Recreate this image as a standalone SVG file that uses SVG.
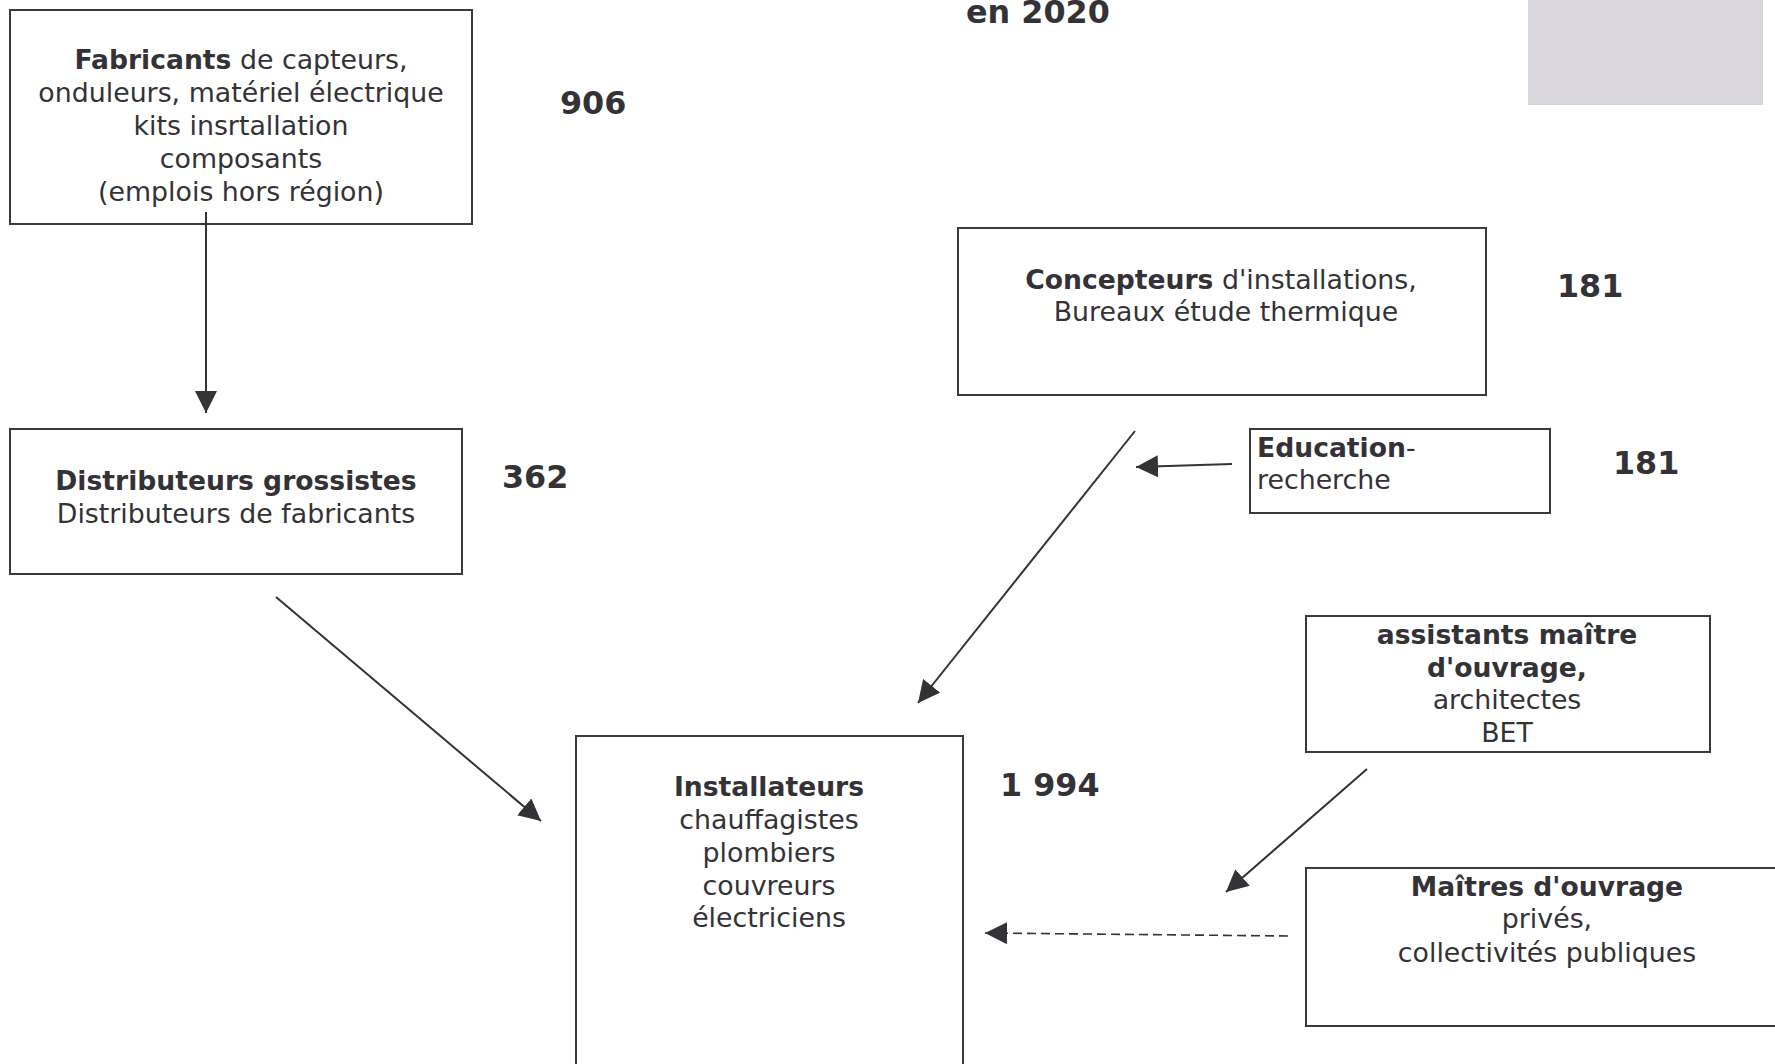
<svg xmlns="http://www.w3.org/2000/svg" width="1775" height="1064" viewBox="0 0 1775 1064">
<defs>
<style>
.box{fill:#fff;stroke:#3a3a3d;stroke-width:2}
.t{font-family:"DejaVu Sans",Verdana,sans-serif;font-size:26.8px;fill:#333236}
.c{text-anchor:middle}
.b{font-weight:bold;font-size:26.6px}
.num{font-family:"DejaVu Sans",Verdana,sans-serif;font-weight:bold;font-size:31.8px;fill:#333236}
.conn{stroke:#333236;stroke-width:2;fill:none}
.dash{stroke-width:1.6;stroke-dasharray:9 5}
</style>
<marker id="ah" markerUnits="userSpaceOnUse" markerWidth="22" markerHeight="22" refX="20" refY="10" orient="auto" viewBox="0 0 20 20"><path d="M0,0 L20,10 L0,20 z" fill="#333236"/></marker>
</defs>
<rect width="1775" height="1064" fill="#fff"/>
<text class="num" x="966" y="23">en 2020</text>
<rect x="1528" y="0" width="235" height="105" fill="#d9d5dc"/>

<g id="fabricants">
<rect class="box" x="10" y="10" width="462" height="214"/>
<text class="t c" x="241" y="69"><tspan class="b">Fabricants</tspan> de capteurs,</text>
<text class="t c" x="241" y="102">onduleurs, matériel électrique</text>
<text class="t c" x="241" y="135">kits insrtallation</text>
<text class="t c" x="241" y="167.5">composants</text>
<text class="t c" x="241" y="200.5">(emplois hors région)</text>
<text class="num" x="560" y="114">906</text>
</g>

<g id="distributeurs">
<rect class="box" x="10" y="429" width="452" height="145"/>
<text class="t c b" x="236" y="490">Distributeurs grossistes</text>
<text class="t c" x="236" y="523">Distributeurs de fabricants</text>
<text class="num" x="502" y="488">362</text>
</g>

<g id="concepteurs">
<rect class="box" x="958" y="228" width="528" height="167"/>
<text class="t c" x="1221" y="289"><tspan class="b">Concepteurs</tspan> d'installations,</text>
<text class="t c" x="1226" y="321">Bureaux étude thermique</text>
<text class="num" x="1557" y="297">181</text>
</g>

<g id="education">
<rect class="box" x="1250" y="429" width="300" height="84"/>
<text class="t" x="1257" y="457"><tspan class="b">Education</tspan>-</text>
<text class="t" x="1257" y="489">recherche</text>
<text class="num" x="1613" y="474">181</text>
</g>

<g id="assistants">
<rect class="box" x="1306" y="616" width="404" height="136"/>
<text class="t c b" x="1507" y="644">assistants maître</text>
<text class="t c b" x="1507" y="676.5">d'ouvrage,</text>
<text class="t c" x="1507" y="709">architectes</text>
<text class="t c" x="1507" y="742">BET</text>
</g>

<g id="maitres">
<rect class="box" x="1306" y="868" width="480" height="158"/>
<text class="t c b" x="1547" y="896">Maîtres d'ouvrage</text>
<text class="t c" x="1547" y="928">privés,</text>
<text class="t c" x="1547" y="962">collectivités publiques</text>
</g>

<g id="installateurs">
<rect class="box" x="576" y="736" width="387" height="340"/>
<text class="t c b" x="769" y="796">Installateurs</text>
<text class="t c" x="769" y="829">chauffagistes</text>
<text class="t c" x="769" y="861.5">plombiers</text>
<text class="t c" x="769" y="894.5">couvreurs</text>
<text class="t c" x="769" y="927">électriciens</text>
<text class="num" x="1000" y="796">1 994</text>
</g>

<g id="connectors">
<line class="conn" x1="206" y1="212" x2="206" y2="413" marker-end="url(#ah)"/>
<line class="conn" x1="276" y1="597" x2="541" y2="821" marker-end="url(#ah)"/>
<line class="conn" x1="1135" y1="431" x2="918" y2="703" marker-end="url(#ah)"/>
<line class="conn" x1="1232" y1="464" x2="1136" y2="467" marker-end="url(#ah)"/>
<line class="conn" x1="1367" y1="769" x2="1226" y2="892" marker-end="url(#ah)"/>
<line class="conn dash" x1="1288" y1="936" x2="985" y2="933" marker-end="url(#ah)"/>
</g>
</svg>
